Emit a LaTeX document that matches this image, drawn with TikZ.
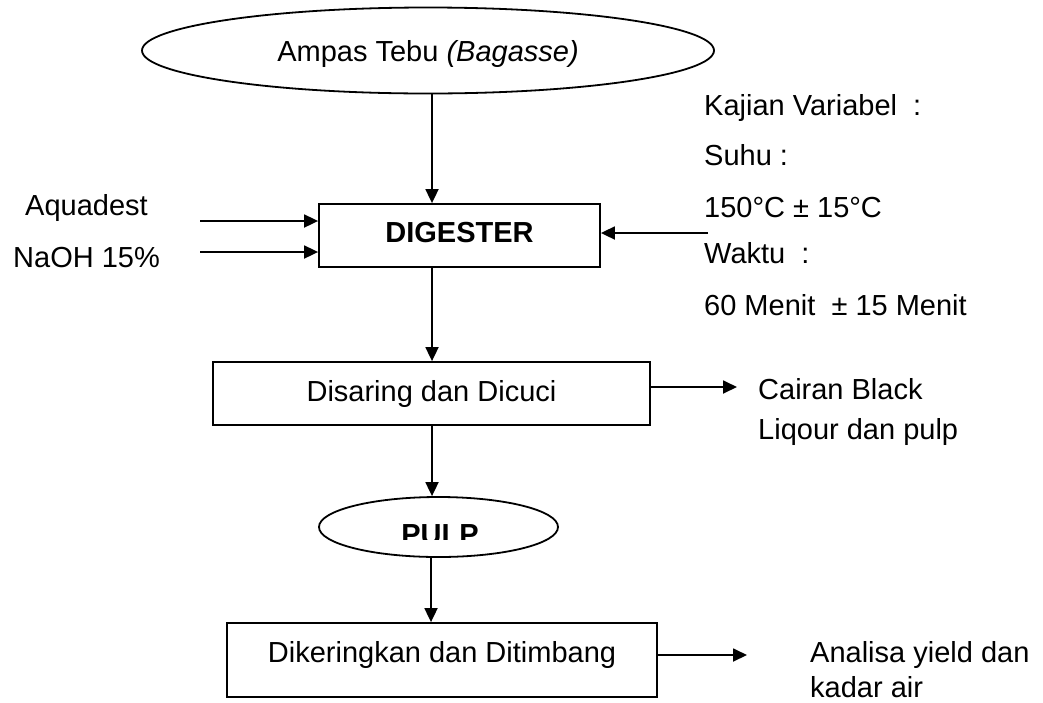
\documentclass[tikz,border=0pt]{standalone}
\usepackage{fontspec}
\setmainfont{Liberation Sans}
\usetikzlibrary{shapes.geometric,arrows.meta}
\begin{document}
\begin{tikzpicture}[x=1pt,y=-1pt,
  every node/.style={font=\fontsize{29pt}{35pt}\selectfont, inner sep=0pt},
  boxnode/.style={draw, line width=1.8pt, rectangle},
  ovalnode/.style={draw, line width=1.8pt, ellipse},
  lbl/.style={anchor=base west},
  arr/.style={line width=1.8pt, -{Triangle[length=14pt,width=13pt]}}]
\fill[white] (0,0) rectangle (1043,702);
\useasboundingbox (0,0) rectangle (1043,702);

% main nodes
\node[ovalnode, minimum width=572pt, minimum height=86pt, text height=21pt, text depth=0pt]
  (top) at (428,50.5) {Ampas Tebu \textit{(Bagasse)}};
\node[boxnode, minimum width=281pt, minimum height=63pt, text height=21pt, text depth=8pt, font=\fontsize{29pt}{35pt}\selectfont\bfseries]
  (dig) at (459.5,235.5) {DIGESTER};
\node[boxnode, minimum width=437pt, minimum height=63pt, text height=21pt, text depth=6pt]
  (dis) at (431.5,393.5) {Disaring dan Dicuci};
\node[ovalnode, minimum width=239pt, minimum height=60pt] (pulp) at (438.5,527) {};
\begin{scope}
  \clip (390,505) rectangle (500,539);
  \node[anchor=base, font=\fontsize{29pt}{35pt}\selectfont\bfseries] (pulptext) at (440,544) {PULP};
\end{scope}
\node[boxnode, minimum width=430pt, minimum height=74pt, text height=21pt, text depth=17pt]
  (dik) at (442,660) {Dikeringkan dan Ditimbang};

% side labels
\node[lbl] (aqua) at (25,215) {Aquadest};
\node[lbl] (naoh) at (13,267) {NaOH 15\%};
\node[lbl] (kaj) at (704,115) {Kajian Variabel~~:};
\node[lbl] (suhu) at (704,165) {Suhu :};
\node[lbl] (temp) at (704,217) {150°C ± 15°C};
\node[lbl] (wak) at (704,263) {Waktu~~:};
\node[lbl] (time) at (704,315) {60 Menit~~± 15 Menit};
\node[lbl] (cai1) at (758,399) {Cairan Black};
\node[lbl] (cai2) at (758,439) {Liqour dan pulp};
\node[lbl] (ana1) at (810,662) {Analisa yield dan};
\node[lbl] (ana2) at (810,697) {kadar air};

% helper coordinates
\coordinate (ax) at (432,0);
\coordinate (bx) at (431,0);
\coordinate (aqin) at (200,221);
\coordinate (naohin) at (200,252);
\coordinate (varin) at (708,233);
\coordinate (caiout) at (737,387);
\coordinate (anaout) at (747,655);

% connectors
\draw[arr] (top.south -| ax) -- (dig.north -| ax);
\draw[arr] (aqin) -- (aqin -| dig.west);
\draw[arr] (naohin) -- (naohin -| dig.west);
\draw[arr] (varin) -- (varin -| dig.east);
\draw[arr] (dig.south -| ax) -- (dis.north -| ax);
\draw[arr] (caiout -| dis.east) -- (caiout);
\draw[arr] (dis.south -| ax) -- (pulp.north -| ax);
\draw[arr] (pulp.south -| bx) -- (dik.north -| bx);
\draw[arr] (anaout -| dik.east) -- (anaout);
\end{tikzpicture}
\end{document}
